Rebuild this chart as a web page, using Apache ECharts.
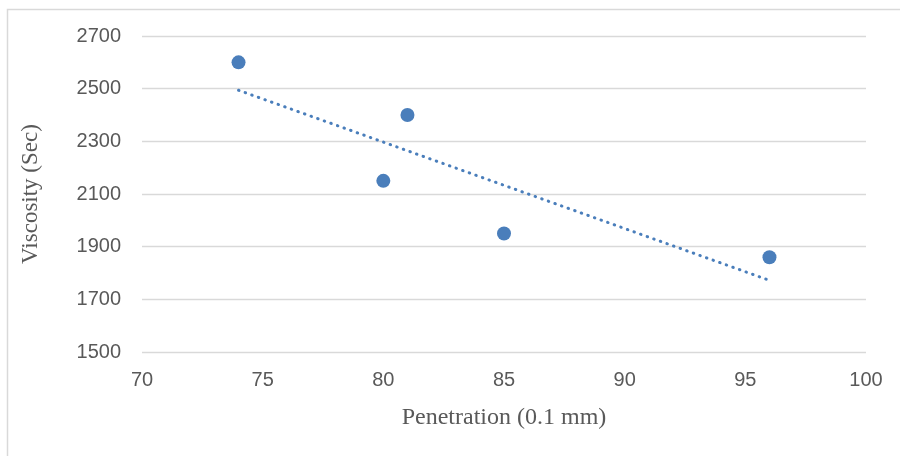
<!DOCTYPE html>
<html><head><meta charset="utf-8">
<script src="https://cdn.jsdelivr.net/npm/echarts@6/dist/echarts.min.js"></script>
<style>html,body{margin:0;padding:0;background:#fff}#c{width:900px;height:456px}</style>
</head><body><div id="c"></div>
<script>
const penetration = [74, 80, 81, 85, 96];
const viscosity = [2600, 2150, 2400, 1950, 1860];
const trendX = [74, 96];
const trendY = [2494, 1772];
const xTicks = {min: 70, max: 100, interval: 5};
const yTicks = {min: 1500, max: 2700, interval: 200};

const chart = echarts.init(document.getElementById('c'));
const color = '#4a7ebb';
chart.setOption({
  animation: false,
  graphic: [{type: 'rect', shape: {x: 7.5, y: 9.5, width: 1000, height: 1000},
    style: {fill: 'none', stroke: '#d9d9d9', lineWidth: 1.5}, z: -1}],
  grid: {left: 142, right: 34, top: 36, bottom: 104},
  xAxis: {type: 'value', min: xTicks.min, max: xTicks.max, interval: xTicks.interval,
    name: 'Penetration (0.1 mm)', nameLocation: 'middle', nameGap: 54,
    nameTextStyle: {fontFamily: 'Liberation Serif', fontSize: 24, color: '#595959'},
    axisLine: {show: false}, axisTick: {show: false}, splitLine: {show: false},
    axisLabel: {fontFamily: 'Liberation Sans', fontSize: 20, color: '#595959', margin: 18,
      formatter: v => String(v)}},
  yAxis: {type: 'value', min: yTicks.min, max: yTicks.max, interval: yTicks.interval,
    name: 'Viscosity (Sec)', nameLocation: 'middle', nameGap: 100,
    nameTextStyle: {fontFamily: 'Liberation Serif', fontSize: 23, color: '#595959'},
    axisLine: {show: false}, axisTick: {show: false},
    splitLine: {lineStyle: {color: '#d9d9d9', width: 1.3}},
    axisLabel: {fontFamily: 'Liberation Sans', fontSize: 20, color: '#595959', margin: 21,
      formatter: v => String(v)}},
  series: [
    {type: 'line', data: trendX.map((x, i) => [x, trendY[i]]), symbol: 'none',
     lineStyle: {color: color, width: 3, type: [0.5, 6.5], cap: 'round'}, z: 1},
    {type: 'scatter', data: penetration.map((x, i) => [x, viscosity[i]]),
     symbol: 'circle', symbolSize: 14, itemStyle: {color: color, opacity: 1}, z: 2}
  ]
});
</script></body></html>
